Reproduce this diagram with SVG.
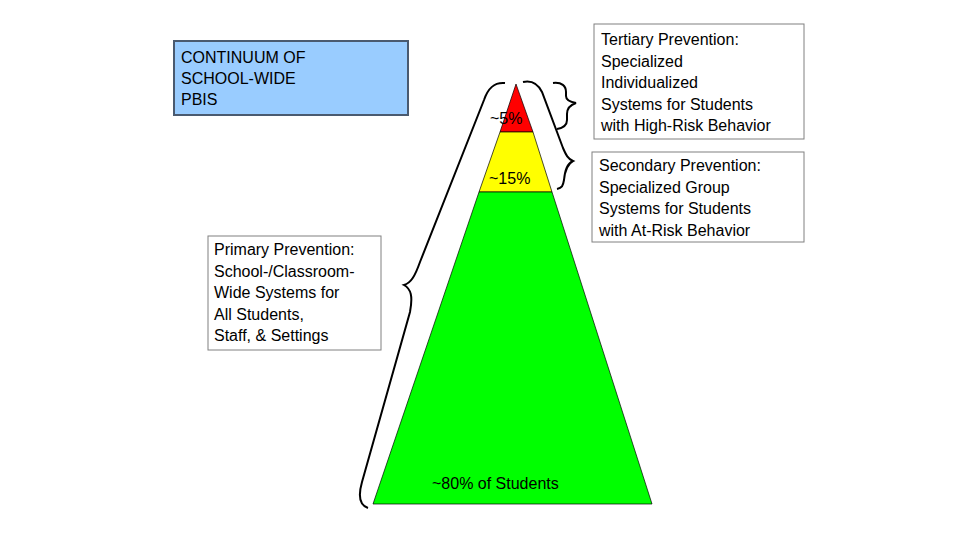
<svg xmlns="http://www.w3.org/2000/svg" width="960" height="540" viewBox="0 0 960 540">
<style>
text{font-family:"Liberation Sans",Arial,sans-serif;font-size:16px;fill:#000}
.box{fill:#fff;stroke:#808080;stroke-width:1}
.br{fill:none;stroke:#000;stroke-width:2}
</style>
<rect width="960" height="540" fill="#fff"/>
<g id="title"><rect x="174" y="41" width="234" height="74" fill="#99ccff" stroke="#4a5a70" stroke-width="2"/>
<text x="181" y="63">CONTINUUM OF</text><text x="181" y="84">SCHOOL-WIDE</text><text x="181" y="105">PBIS</text></g>
<g id="pyramid">
<polygon points="516,84 500,132 533,132" fill="#ff0000" stroke="#000" stroke-width="0.7"/>
<polygon points="500,132 533,132 552,192 479,192" fill="#ffff00" stroke="#000" stroke-width="0.7"/>
<polygon points="479,192 552,192 652,504 373,504" fill="#00ff00" stroke="#000" stroke-width="0.7"/>
<text x="490" y="124">~5%</text>
<text x="489" y="184">~15%</text>
<text x="432" y="489">~80% of Students</text>
</g>
<g id="connectors">
<path class="br" d="M505,83 C494,82 488,88 484,100 L420,262 C415,276 411,283 404,285 C411,289 413,296 410,312 L362,482 C358,496 359,505 368,508"/>
<path class="br" d="M523,82 C532,80 538,84 542,92 L563,148 C566,155 568,159 573,161 C567,164 565,170 564,180 C563,186 562,188 557,189"/>
<path class="br" d="M553,83 C562,82 566,86 566,92 L566,96 C566,100 570,102 576,103 C570,105 567,108 567,114 L567,120 C567,126 563,128 557,129"/>
</g>
<g id="tertiary"><rect class="box" x="594" y="24" width="210" height="115"/>
<text x="601" y="45">Tertiary Prevention:</text><text x="601" y="67">Specialized</text><text x="601" y="88">Individualized</text><text x="601" y="110">Systems for Students</text><text x="601" y="131">with High-Risk Behavior</text></g>
<g id="secondary"><rect class="box" x="592" y="152" width="212" height="90"/>
<text x="599" y="171">Secondary Prevention:</text><text x="599" y="193">Specialized Group</text><text x="599" y="214">Systems for Students</text><text x="599" y="236">with At-Risk Behavior</text></g>
<g id="primary"><rect class="box" x="208" y="236" width="173" height="114"/>
<text x="214" y="255">Primary Prevention:</text><text x="214" y="277">School-/Classroom-</text><text x="214" y="298">Wide Systems for</text><text x="214" y="320">All Students,</text><text x="214" y="341">Staff, &amp; Settings</text></g>
</svg>
